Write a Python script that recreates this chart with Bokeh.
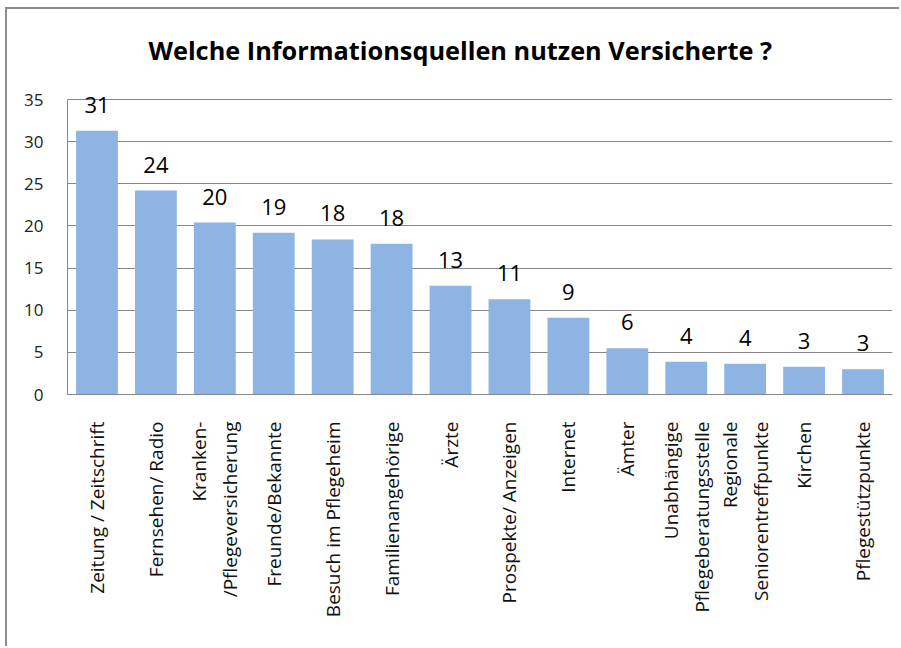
from math import pi
from bokeh.plotting import figure
from bokeh.models import ColumnDataSource, FixedTicker, FactorRange, Range1d, LabelSet
from bokeh.core.properties import value
from bokeh.embed import file_html
from bokeh.resources import INLINE

categories = [
    "Zeitung / Zeitschrift",
    "Fernsehen/ Radio",
    "Kranken-\n/Pflegeversicherung",
    "Freunde/Bekannte",
    "Besuch im Pflegeheim",
    "Familienangehörige",
    "Ärzte",
    "Prospekte/ Anzeigen",
    "Internet",
    "Ämter",
    "Unabhängige\nPflegeberatungsstelle",
    "Regionale\nSeniorentreffpunkte",
    "Kirchen",
    "Pflegestützpunkte",
]
values = [31.3, 24.2, 20.4, 19.2, 18.4, 17.9, 12.9, 11.3, 9.1, 5.5, 3.9, 3.65, 3.3, 3.0]
labels = ["31", "24", "20", "19", "18", "18", "13", "11", "9", "6", "4", "4", "3", "3"]
y_ticks = [0, 5, 10, 15, 20, 25, 30, 35]

title_text = "Welche Informationsquellen nutzen Versicherte ?"

source = ColumnDataSource(dict(cat=categories, val=values, lab=labels))

p = figure(
    x_range=FactorRange(*categories, range_padding=0),
    y_range=Range1d(0, 37.5),
    width=894, height=639,
    output_backend="svg", toolbar_location=None,
    min_border_left=60, min_border_right=9, min_border_top=69, min_border_bottom=254,
)
p.title.text = title_text
p.title.align = "left"
p.title.text_font = "Open Sans"
p.title.text_font_style = "bold"
p.title.text_font_size = "25.3px"
p.title.text_color = "#000000"
p.title.offset = 81
p.title.standoff = 23

p.styles = {"margin-left": "5px", "margin-top": "7px",
            "border-top": "2px solid #8c8c8c", "border-left": "2px solid #8c8c8c"}

p.vbar(x="cat", top="val", width=0.71, source=source, fill_color="#8EB4E3", line_color=None)
p.add_layout(LabelSet(x="cat", y="val", text="lab", source=source,
                      text_font=value("Open Sans"), text_font_size="22px",
                      text_align="center", text_baseline="alphabetic",
                      y_offset=18, text_color="#000000"))

p.outline_line_color = None
p.xgrid.grid_line_color = None
p.ygrid.grid_line_color = "#868686"
p.ygrid.grid_line_width = 1

p.yaxis.ticker = FixedTicker(ticks=y_ticks)
p.yaxis.bounds = (y_ticks[0], y_ticks[-1])
p.yaxis.axis_line_color = "#868686"
p.yaxis.major_tick_line_color = None
p.yaxis.minor_tick_line_color = None
p.yaxis.major_label_standoff = 18
p.yaxis.major_label_text_font = "Open Sans"
p.yaxis.major_label_text_font_size = "17px"
p.yaxis.major_label_text_color = "#222222"

p.xaxis.axis_line_color = "#868686"
p.xaxis.major_tick_line_color = None
p.xaxis.minor_tick_line_color = None
p.xaxis.major_label_orientation = pi / 2
p.xaxis.major_label_standoff = 21
p.xaxis.major_label_text_font = "Open Sans"
p.xaxis.major_label_text_font_size = "19px"
p.xaxis.major_label_text_color = "#111111"

open("out.html", "w").write(file_html(p, INLINE))
